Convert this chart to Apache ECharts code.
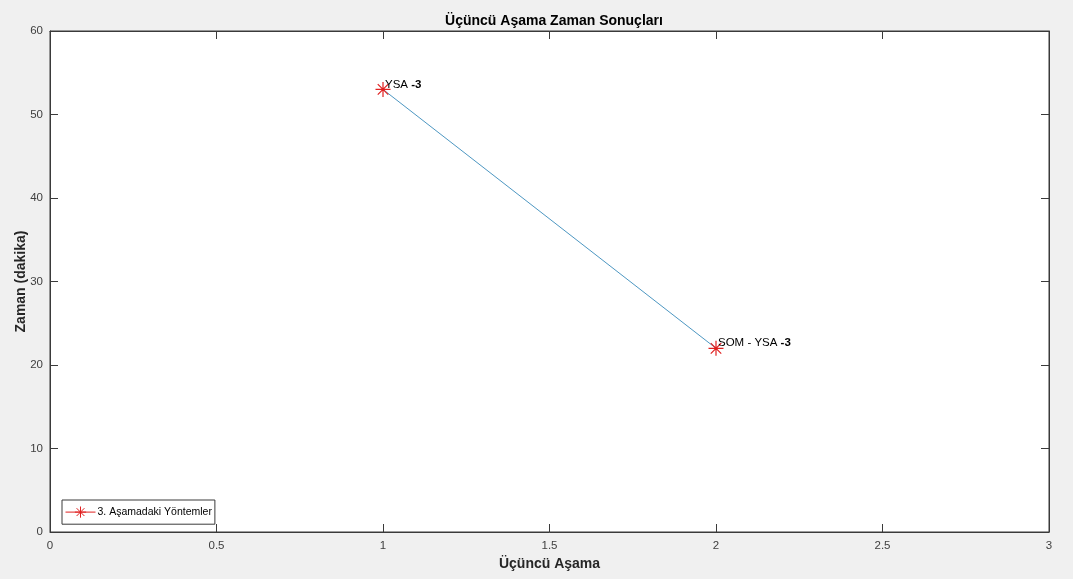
<!DOCTYPE html>
<html>
<head>
<meta charset="utf-8">
<script src="https://cdn.jsdelivr.net/npm/echarts@6/dist/echarts.min.js"></script>
<style>
  html, body { margin: 0; padding: 0; background: #f0f0f0; }
  #chart { width: 1073px; height: 579px; }
</style>
</head>
<body>
<div id="chart"></div>
<script>
// Stage positions, time in minutes, method names
const stages = [1, 2];
const minutes = [53, 22];
const methods = ['YSA', 'SOM - YSA'];
const methodSuffix = '-3';
const xTicks = [0, 0.5, 1, 1.5, 2, 2.5, 3];
const yTicks = [0, 10, 20, 30, 40, 50, 60];

const legendName = '3. Aşamadaki Yöntemler';
const font = '"Liberation Sans", Arial, sans-serif';

// 8-armed asterisk marker
const asterisk = 'path://M10,0L10,20M0,10L20,10M3,3L17,17M3,17L17,3';

const points = stages.map((s, i) => [s, minutes[i], methods[i]]);

const chart = echarts.init(document.getElementById('chart'));

const axisColor = '#3a3a3a';
const tickStyle = { show: true, inside: true, length: 8, lineStyle: { color: axisColor } };
const axisLineStyle = { show: true, onZero: false, lineStyle: { color: axisColor } };

chart.setOption({
  backgroundColor: '#f0f0f0',
  animation: false,
  textStyle: { fontFamily: font },
  title: {
    text: 'Üçüncü Aşama Zaman Sonuçları',
    left: 549, top: 9, textAlign: 'center',
    textStyle: { fontSize: 14, fontWeight: 'bold', color: '#000', fontFamily: font }
  },
  grid: {
    left: 50, right: 24, top: 31, bottom: 47,
    show: true, backgroundColor: '#fff', borderColor: axisColor, borderWidth: 1
  },
  legend: {
    data: [legendName],
    left: 62, top: 500,
    orient: 'vertical',
    backgroundColor: '#fff',
    borderColor: axisColor, borderWidth: 1, borderRadius: 0,
    padding: [4, 3, 4, 3],
    itemWidth: 30, itemHeight: 14, itemGap: 4,
    lineStyle: { color: '#e02020', width: 1, opacity: 1 },
    itemStyle: { color: 'none', borderColor: '#e02020', borderWidth: 1 },
    textStyle: { fontSize: 10.5, color: '#000', fontFamily: font, padding: [0, 0, 0, -3] }
  },
  xAxis: [{
    type: 'value', min: 0, max: 3, interval: 0.5,
    position: 'bottom',
    name: 'Üçüncü Aşama', nameLocation: 'middle', nameGap: 25,
    nameMoveOverlap: false,
    nameTextStyle: { fontSize: 14, fontWeight: 'bold', color: '#262626', fontFamily: font },
    axisLine: axisLineStyle,
    axisTick: tickStyle,
    axisLabel: {
      color: '#404040', fontSize: 11.5, margin: 8,
      formatter: v => xTicks.includes(v) ? String(v) : ''
    },
    splitLine: { show: false }
  }, {
    type: 'value', min: 0, max: 3, interval: 0.5,
    position: 'top',
    axisLine: axisLineStyle,
    axisTick: tickStyle,
    axisLabel: { show: false },
    splitLine: { show: false }
  }],
  yAxis: [{
    type: 'value', min: 0, max: 60, interval: 10,
    position: 'left',
    name: 'Zaman (dakika)', nameLocation: 'middle', nameGap: 22,
    nameMoveOverlap: false,
    nameTextStyle: { fontSize: 14, fontWeight: 'bold', color: '#262626', fontFamily: font },
    axisLine: axisLineStyle,
    axisTick: tickStyle,
    axisLabel: {
      color: '#404040', fontSize: 11.5, margin: 7,
      formatter: v => yTicks.includes(v) ? String(v) : ''
    },
    splitLine: { show: false }
  }, {
    type: 'value', min: 0, max: 60, interval: 10,
    position: 'right',
    axisLine: axisLineStyle,
    axisTick: tickStyle,
    axisLabel: { show: false },
    splitLine: { show: false }
  }],
  series: [{
    // connecting line
    name: 'line',
    type: 'line',
    data: points,
    showSymbol: false,
    symbol: 'none',
    lineStyle: { color: '#4d97c2', width: 1 },
    silent: true,
    z: 2
  }, {
    // method markers with labels
    name: legendName,
    type: 'line',
    data: points,
    symbol: asterisk,
    symbolSize: 15,
    symbolKeepAspect: true,
    lineStyle: { opacity: 0, width: 0 },
    itemStyle: { color: 'none', borderColor: '#e02020', borderWidth: 1.2 },
    label: {
      show: true,
      position: 'right',
      distance: -8,
      offset: [0, -5],
      formatter: p => '{n|' + p.data[2] + ' }{b|' + methodSuffix + '}',
      rich: {
        n: { fontSize: 11.5, color: '#000', fontFamily: font },
        b: { fontSize: 11.5, color: '#000', fontWeight: 'bold', fontFamily: font }
      }
    },
    z: 3
  }]
});
</script>
</body>
</html>
